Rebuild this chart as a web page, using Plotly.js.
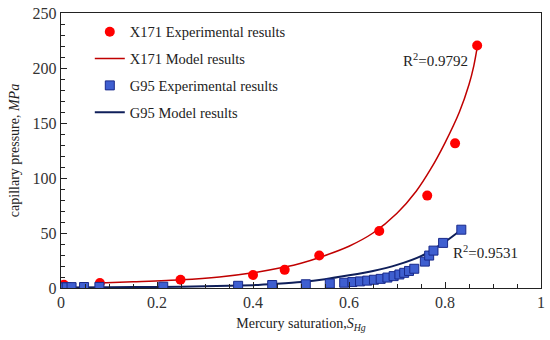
<!DOCTYPE html>
<html>
<head>
<meta charset="utf-8">
<script src="https://cdn.plot.ly/plotly-3.0.1.min.js"></script>
<style>html,body{margin:0;padding:0;background:#fff;}#chart{width:550px;height:340px;}</style>
</head>
<body>
<div id="chart"></div>
<script>
// X171 experimental results
const x171ExpSat = [0.006, 0.081, 0.249, 0.400, 0.466, 0.538, 0.663, 0.763, 0.821, 0.867];
const x171ExpPc  = [3.0, 4.5, 7.5, 11.8, 16.5, 29.5, 51.8, 84.0, 131.5, 220.5];
// X171 model results
const x171ModSat = [0.08, 0.15, 0.25, 0.33, 0.40, 0.466, 0.50, 0.54, 0.60, 0.65, 0.70, 0.74, 0.77, 0.80, 0.83, 0.85, 0.86, 0.868];
const x171ModPc  = [4.5, 5.6, 7.4, 10.0, 13.8, 19.0, 22.5, 28.0, 38.0, 50.0, 68.0, 88.0, 108.0, 132.0, 160.0, 185.0, 202.0, 221.0];
// G95 experimental results
const g95ExpSat = [0.002, 0.006, 0.012, 0.022, 0.048, 0.080, 0.213, 0.369, 0.440, 0.510, 0.560, 0.590, 0.607, 0.623, 0.638, 0.652, 0.666, 0.680, 0.693, 0.705, 0.715, 0.725, 0.736, 0.758, 0.767, 0.776, 0.796, 0.834];
const g95ExpPc  = [0.3, 0.5, 0.6, 0.8, 0.9, 1.0, 1.2, 2.0, 2.7, 3.4, 4.0, 4.8, 5.4, 6.0, 6.7, 7.5, 8.3, 9.5, 10.8, 12.3, 13.8, 15.5, 17.5, 24.0, 29.5, 34.0, 41.0, 53.0];
// G95 model results
const g95ModSat = [0.0, 0.1, 0.2, 0.3, 0.4, 0.45, 0.5, 0.55, 0.6, 0.65, 0.7, 0.75, 0.8, 0.834];
const g95ModPc  = [0.5, 0.7, 1.0, 1.5, 2.6, 3.9, 5.5, 8.0, 11.5, 15.5, 21.0, 29.0, 42.0, 53.0];
// annotations
const r2Labels = ["R<sup>2</sup>=0.9792", "R<sup>2</sup>=0.9531"];
const r2Sat = [0.78, 0.885];
const r2Pc = [207, 33];
const seriesNames = ["X171 Experimental results", "X171 Model results", "G95 Experimental results", "G95 Model results"];

const font = "Liberation Serif";

const traces = [
  {x: x171ModSat, y: x171ModPc, type: 'scatter', mode: 'lines', name: seriesNames[1],
   line: {color: '#c00000', width: 1.5, shape: 'spline', smoothing: 0.8}, legendrank: 2, legendgroup: 'b'},
  {x: g95ModSat, y: g95ModPc, type: 'scatter', mode: 'lines', name: seriesNames[3],
   line: {color: '#0f1f5a', width: 2, shape: 'spline', smoothing: 0.6}, legendrank: 4, legendgroup: 'd'},
  {x: x171ExpSat, y: x171ExpPc, type: 'scatter', mode: 'markers', name: seriesNames[0],
   marker: {symbol: 'circle', size: 10, color: '#ff0000'}, legendrank: 1, legendgroup: 'a'},
  {x: g95ExpSat, y: g95ExpPc, type: 'scatter', mode: 'markers', name: seriesNames[2],
   marker: {symbol: 'square', size: 9, color: '#3f5fd0', line: {color: '#1a2a8a', width: 1}}, legendrank: 3, legendgroup: 'c'}
];

const layout = {
  width: 550, height: 340,
  margin: {l: 61, r: 9, t: 13, b: 52},
  paper_bgcolor: '#fff', plot_bgcolor: '#fff',
  font: {family: font, size: 15, color: '#222'},
  showlegend: true,
  legend: {x: 0.06, y: 0.99, xanchor: 'left', yanchor: 'top', bgcolor: 'rgba(0,0,0,0)',
           font: {family: font, size: 14.5, color: '#222'}, traceorder: 'grouped', tracegroupgap: 5},
  xaxis: {range: [0, 1], dtick: 0.2, tick0: 0, showgrid: false, zeroline: false,
          showline: true, linecolor: '#222', linewidth: 1.2, mirror: true,
          ticks: 'inside', ticklen: 6, tickcolor: '#222',
          minor: {dtick: 0.05, ticks: 'inside', ticklen: 4, tickcolor: '#222'},
          tickfont: {family: font, size: 16, color: '#333'},
          title: {text: 'Mercury saturation,<i>S</i><sub><i>Hg</i></sub>', font: {family: font, size: 14, color: '#222'}, standoff: 7}},
  yaxis: {range: [0, 250], dtick: 50, tick0: 0, showgrid: false, zeroline: false,
          showline: true, linecolor: '#222', linewidth: 1.2, mirror: true,
          ticks: 'inside', ticklen: 6, tickcolor: '#222',
          minor: {dtick: 10, ticks: 'inside', ticklen: 4, tickcolor: '#222'},
          tickfont: {family: font, size: 16, color: '#333'},
          title: {text: 'capillary pressure, <i>MPa</i>', font: {family: font, size: 14, color: '#222'}, standoff: 9}},
  annotations: r2Labels.map((t, i) => ({x: r2Sat[i], y: r2Pc[i], xref: 'x', yref: 'y', text: t, showarrow: false,
    xanchor: 'center', font: {family: font, size: 15, color: '#222'}}))
};

Plotly.newPlot('chart', traces, layout, {displayModeBar: false, staticPlot: true});
</script>
</body>
</html>
